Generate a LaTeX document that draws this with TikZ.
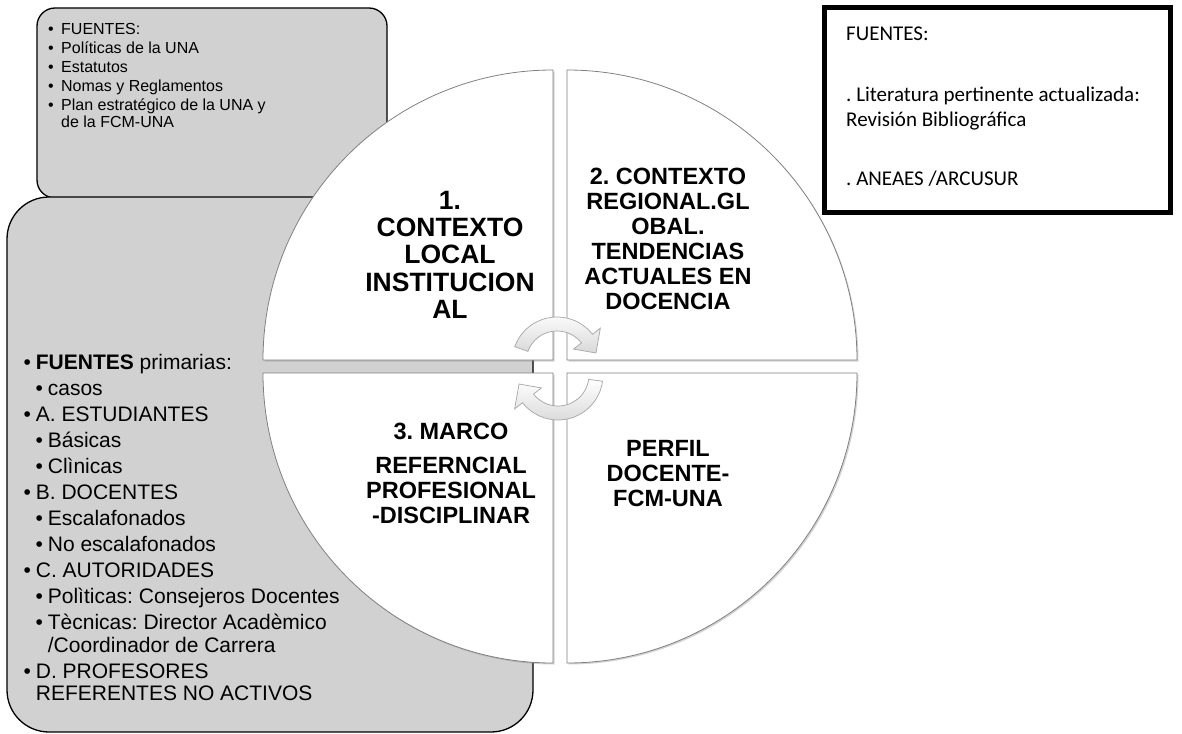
\documentclass[tikz,border=0pt]{standalone}
\usepackage{fontspec}
\setmainfont{Liberation Sans}
\newfontfamily\calfont{Carlito}
\usepackage{tikz}
\usetikzlibrary{shadows}
\definecolor{boxgray}{RGB}{209,209,209}
\newcommand{\bl}[1][12.2pt]{\makebox[#1][l]{\textbullet}}
\frenchspacing

\begin{document}
\begin{tikzpicture}[x=1pt,y=1pt,
    srcbox/.style={draw=black,line width=1.3pt,fill=boxgray},
    quad/.style={draw=gray,line width=0.8pt,fill=white,drop shadow={shadow xshift=1.5pt,shadow yshift=-1.5pt,opacity=0.35}},
    turn/.style={draw=gray!70,line width=0.7pt,top color=white,bottom color=gray!30},
    qlabel/.style={inner sep=0pt,align=center,anchor=north,font=\fontsize{23.5}{24.9}\selectfont\bfseries},
    srctext/.style={inner sep=0pt,align=left,anchor=north west}]
\useasboundingbox (0,0) rectangle (1182,-733);
% source boxes
\draw[srcbox,rounded corners=18pt] (37,-8) rectangle (387,-198);
\draw[srcbox,rounded corners=42pt] (7,-197) rectangle (533,-732);
\draw[line width=5pt] (824.5,-7.5) rectangle (1170,-212.5);
% the cycle
\path[quad] (553,-360) -- ++(-290,0) arc[start angle=180,end angle=90,radius=290] -- cycle;
\path[quad] (567,-360) -- ++(0,290) arc[start angle=90,end angle=0,radius=290] -- cycle;
\path[quad] (553,-373) -- ++(0,-290) arc[start angle=270,end angle=180,radius=290] -- cycle;
\path[quad] (567,-373) -- ++(290,0) arc[start angle=0,end angle=-90,radius=290] -- cycle;
% turning arrows
\coordinate (topc) at (557,-362);
\coordinate (botc) at (558,-375);
\path[turn] ([shift={(topc)}]160:45) arc[start angle=160,end angle=38,radius=45]
    -- ([shift={(topc)}]38:55) -- ([shift={(topc)}]13:40) -- ([shift={(topc)}]38:21)
    -- ([shift={(topc)}]38:31) arc[start angle=38,end angle=160,radius=31] -- cycle;
\path[turn] ([shift={(botc)}]-8:45) arc[start angle=-8,end angle=-142,radius=45]
    -- ([shift={(botc)}]-142:55) -- ([shift={(botc)}]-167:40) -- ([shift={(botc)}]-142:21)
    -- ([shift={(botc)}]-142:31) arc[start angle=-142,end angle=-8,radius=31] -- cycle;
% labels
\node[qlabel,font=\fontsize{26.5}{27.2}\selectfont\bfseries] (local) at (450,-191) {1.\\CONTEXTO\\LOCAL\\INSTITUCION\\AL};
\node[qlabel] (global) at (668,-168.2) {2. CONTEXTO\\REGIONAL.GL\\OBAL.\\TENDENCIAS\\ACTUALES EN\\DOCENCIA};
\node[qlabel] (marco) at (451,-423.2) {3. MARCO\\[9pt]REFERNCIAL\\PROFESIONAL\\-DISCIPLINAR};
\node[qlabel] (perfil) at (668,-440.2) {PERFIL\\DOCENTE-\\FCM-UNA};
\node[srctext,font=\fontsize{16}{19}\selectfont] (inst) at (48,-23.5) {\bl[13pt]FUENTES:\\\bl[13pt]Políticas de la UNA\\\bl[13pt]Estatutos\\\bl[13pt]Nomas y Reglamentos\\\bl[13pt]Plan estratégico de la UNA y\\[-2pt]\hspace*{13pt}de la FCM-UNA};
\node[srctext,font=\fontsize{21}{26}\selectfont] (prim) at (23.5,-354) {\bl\textbf{FUENTES} primarias:\\
    \hspace*{12pt}\bl casos\\
    \bl A. ESTUDIANTES\\
    \hspace*{12pt}\bl Básicas\\
    \hspace*{12pt}\bl Clìnicas\\
    \bl B. DOCENTES\\
    \hspace*{12pt}\bl Escalafonados\\
    \hspace*{12pt}\bl No escalafonados\\
    \bl C. AUTORIDADES\\
    \hspace*{12pt}\bl Polìticas: Consejeros Docentes\\
    \hspace*{12pt}\bl Tècnicas: Director Acadèmico\\[-3pt]
    \hspace*{24.2pt}/Coordinador de Carrera\\
    \bl D. PROFESORES\\[-4pt]
    \hspace*{12.2pt}REFERENTES NO ACTIVOS};
\node[srctext,font=\calfont\fontsize{21}{25}\selectfont] (lit) at (846,-26.4) {FUENTES:\\[36.7pt]. Literatura pertinente actualizada:\\Revisión Bibliográfica\\[33.3pt]. ANEAES /ARCUSUR};
\end{tikzpicture}
\end{document}
